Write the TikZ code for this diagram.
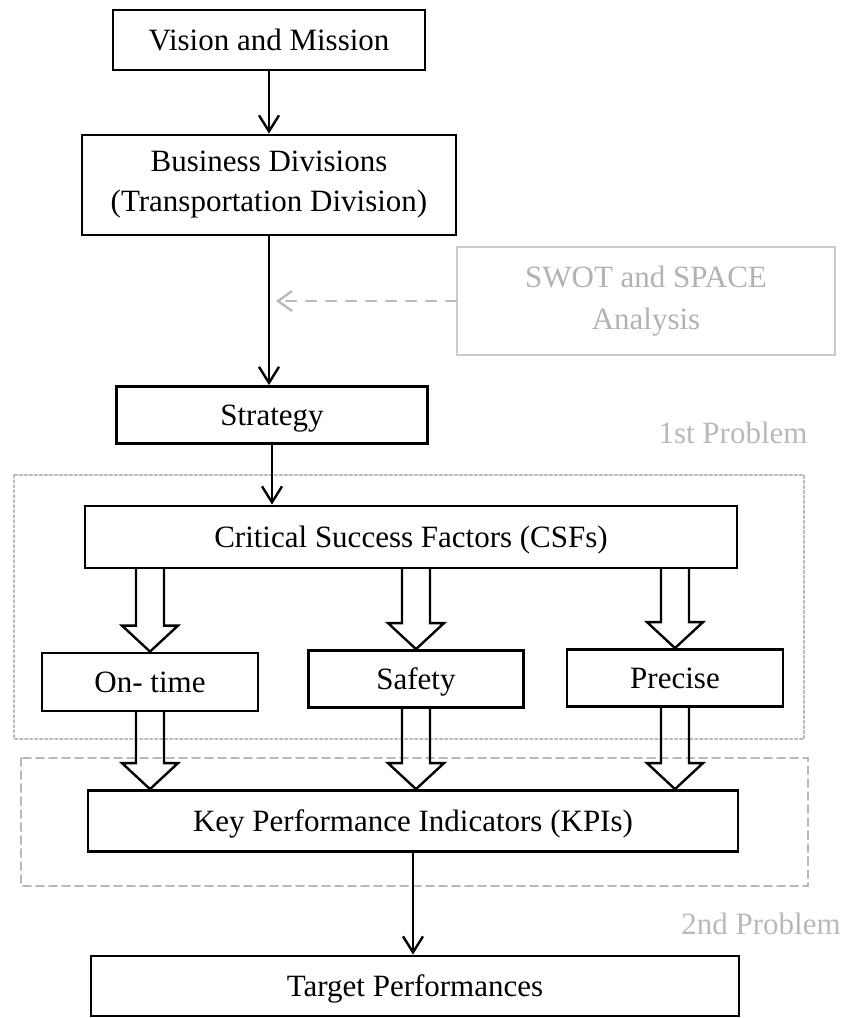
\documentclass[tikz,border=0pt]{standalone}
\usepackage{fontspec}
\setmainfont{Liberation Serif}
\usetikzlibrary{calc,arrows.meta}

\begin{document}
\begin{tikzpicture}
	[x=0.5pt,y=-0.5pt,line cap=round,
	%Styles
	box/.style={draw,line width=1.4pt,inner sep=2pt,align=center,font=\fontsize{15.5}{20}\selectfont},
	one line/.style={text height=13.5pt,text depth=3.5pt},
	flow/.style={line width=1.2pt,-{Straight Barb[length=8pt,width=10pt]}},
	fat arrow/.style={line width=1.2pt,line join=miter},
	faint/.style={gray!55},
	problem text/.style={faint,font=\fontsize{15.5}{20}\selectfont}
	]
	
	\useasboundingbox (0,0) rectangle (843,1018);
	
	%Problem frames
	\draw[faint,line width=1pt,dash pattern=on 1.2pt off 1.3pt] (14,475) rectangle (804,739);
	\draw[faint,line width=1pt,dash pattern=on 4pt off 2.5pt] (21,758) rectangle (808,886);
	\node[problem text] (first) at (733,433) {1st Problem};
	\node[problem text] (second) at (761,924) {2nd Problem};
	
	%The boxes
	\node[box,one line,minimum width=156pt,minimum height=30pt] (vision) at (269,40) {Vision and Mission};
	\node[box,minimum width=187pt,minimum height=50pt] (business) at (269,185) {Business Divisions\\(Transportation Division)};
	\node[box,draw=gray!40,line width=1pt,text=gray!60,minimum width=189pt,minimum height=54pt,font=\fontsize{15.5}{21}\selectfont] (swot) at (646,301) {SWOT and SPACE\\Analysis};
	\node[box,one line,minimum width=155.5pt,minimum height=28.5pt] (strategy) at (272,415) {Strategy};
	\node[box,one line,minimum width=326pt,minimum height=31pt] (csf) at (411,537) {Critical Success Factors (CSFs)};
	\node[box,one line,minimum width=108pt,minimum height=29pt] (ontime) at (150,682) {On- time};
	\node[box,one line,minimum width=107.5pt,minimum height=28.5pt] (safety) at (416,679) {Safety};
	\node[box,one line,minimum width=108pt,minimum height=28.5pt] (precise) at (675,678) {Precise};
	\node[box,one line,minimum width=325pt,minimum height=30.5pt] (kpi) at (413,821) {Key Performance Indicators (KPIs)};
	\node[box,one line,minimum width=324pt,minimum height=30pt] (target) at (415,986) {Target Performances};
	
	%Connectors
	\draw[flow] (vision) -- (business);
	\draw[flow] (business.south) -- (business.south |- strategy.north);
	\draw[faint,line width=1.2pt,dash pattern=on 5pt off 5pt,-{Straight Barb[length=7pt,width=10pt]},shorten >=3.5pt] (swot.west) -- (swot.west -| business.south);
	\draw[flow] (strategy.south) -- (strategy.south |- csf.north);
	\draw[flow] (kpi.south) -- (kpi.south |- target.north);
	
	\foreach \n in {ontime,safety,precise}{
		\draw[fat arrow] ($(\n.north |- csf.south)+(-14,0)$) -- ($(\n.north)+(-14,-26)$) -- ($(\n.north)+(-28,-26)$) -- (\n.north) -- ($(\n.north)+(28,-26)$) -- ($(\n.north)+(14,-26)$) -- ($(\n.north |- csf.south)+(14,0)$);
		\draw[fat arrow] ($(\n.south)+(-14,0)$) -- ($(\n.south |- kpi.north)+(-14,-26)$) -- ($(\n.south |- kpi.north)+(-28,-26)$) -- (\n.south |- kpi.north) -- ($(\n.south |- kpi.north)+(28,-26)$) -- ($(\n.south |- kpi.north)+(14,-26)$) -- ($(\n.south)+(14,0)$);
	}
\end{tikzpicture}
\end{document}
